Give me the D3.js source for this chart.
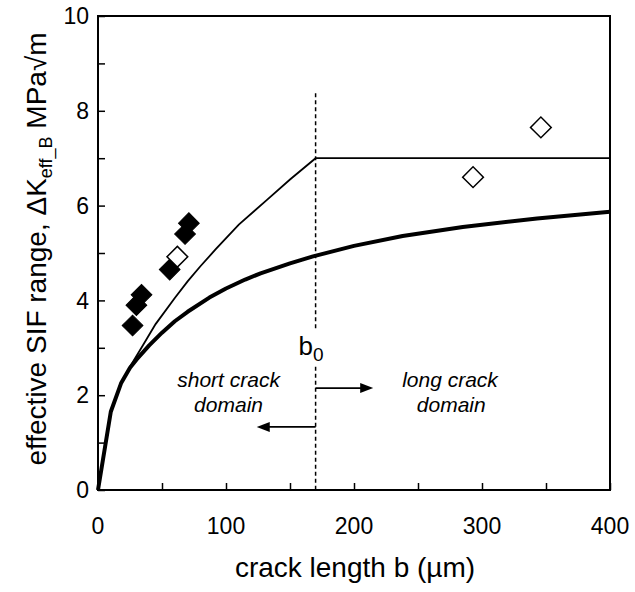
<!DOCTYPE html>
<html><head><meta charset="utf-8">
<script src="https://cdn.jsdelivr.net/npm/d3@7"></script>
<style>body{margin:0;background:#fff}svg{display:block;font-family:"Liberation Sans",Arial,Helvetica,sans-serif}</style>
</head><body><svg id="c" width="635" height="592"></svg>
<script>
// ---- data ----
const filledB = [27, 30, 34, 56, 68, 71];
const filledK = [3.47, 3.9, 4.12, 4.65, 5.4, 5.63];
const openB = [62, 293, 346];
const openK = [4.92, 6.6, 7.65];
const thinB = [0, 10, 18, 25, 35, 45, 60, 70, 80, 92, 110, 132, 150, 170, 400];
const thinK = [0, 1.65, 2.25, 2.6, 3.05, 3.5, 4.05, 4.4, 4.72, 5.08, 5.6, 6.12, 6.55, 7.0, 7.0];
const thickB = [0, 10, 18, 25, 30, 40, 50, 60, 70, 87, 100, 115, 127, 150, 168, 200, 238, 285, 343, 400];
const thickK = [0, 1.65, 2.25, 2.58, 2.75, 3.05, 3.32, 3.56, 3.76, 4.06, 4.25, 4.44, 4.57, 4.78, 4.93, 5.15, 5.36, 5.55, 5.73, 5.87];
const b0 = 170;
const xTicks = [0, 100, 200, 300, 400];
const yTicks = [0, 2, 4, 6, 8, 10];

const svg = d3.select("#c");
const L = 98, R = 610, T = 16, B = 490;
const x = d3.scaleLinear().domain([0, 400]).range([L, R]);
const y = d3.scaleLinear().domain([0, 10]).range([B, T]);

// curves
const line = d3.line().x(d => x(d[0])).y(d => y(d[1]));
svg.append("path").datum(thinB.map((b, i) => [b, thinK[i]]))
  .attr("d", line).attr("fill", "none").attr("stroke", "#000").attr("stroke-width", 1.8);
svg.append("path").datum(thickB.map((b, i) => [b, thickK[i]]))
  .attr("d", line).attr("fill", "none").attr("stroke", "#000").attr("stroke-width", 4).attr("stroke-linejoin", "round");

// b0 dashed line
[[8.37, 3.35], [2.6, 0]].forEach(s => {
  svg.append("line").attr("x1", x(b0)).attr("x2", x(b0)).attr("y1", y(s[0])).attr("y2", y(s[1]))
    .attr("stroke", "#000").attr("stroke-width", 1.5).attr("stroke-dasharray", "4,3");
});

// axes box
svg.append("rect").attr("x", L).attr("y", T).attr("width", R - L).attr("height", B - T)
  .attr("fill", "none").attr("stroke", "#000").attr("stroke-width", 2);
const xAx = svg.append("g").attr("transform", `translate(0,${B})`)
  .call(d3.axisBottom(x).tickValues(d3.range(0, 401, 50)).tickSize(-7).tickFormat(""));
const yAx = svg.append("g").attr("transform", `translate(${L},0)`)
  .call(d3.axisLeft(y).tickValues(d3.range(0, 11, 1)).tickSize(-7).tickFormat(""));
[xAx, yAx].forEach(g => { g.select(".domain").remove(); g.selectAll("line").attr("stroke", "#000").attr("stroke-width", 1.5); });

svg.selectAll(".xl").data(xTicks).join("text").attr("x", d => x(d)).attr("y", 534)
  .attr("text-anchor", "middle").attr("font-size", 23).text(d => d);
svg.selectAll(".yl").data(yTicks).join("text").attr("x", 89).attr("y", d => y(d)).attr("dy", "0.36em")
  .attr("text-anchor", "end").attr("font-size", 23).text(d => d);

// titles
svg.append("text").attr("x", (L + R) / 2 + 1).attr("y", 577).attr("text-anchor", "middle")
  .attr("font-size", 28).text("crack length b (µm)");
const yt = svg.append("text").attr("transform", `translate(46,${249}) rotate(-90)`)
  .attr("text-anchor", "middle").attr("font-size", 28);
yt.append("tspan").text("effective SIF range,  ΔK");
yt.append("tspan").attr("font-size", 18).attr("dy", 6).text("eff_B");
yt.append("tspan").attr("dy", -6).text(" MPa√m");

// markers
const sq = d3.symbol().type(d3.symbolSquare).size(215);
svg.selectAll(".fp").data(filledB.map((b, i) => [b, filledK[i]])).join("path")
  .attr("d", sq).attr("transform", d => `translate(${x(d[0])},${y(d[1])}) rotate(45)`)
  .attr("fill", "#000").attr("stroke", "#000").attr("stroke-width", 1);
svg.selectAll(".op").data(openB.map((b, i) => [b, openK[i]])).join("path")
  .attr("d", sq).attr("transform", d => `translate(${x(d[0])},${y(d[1])}) rotate(45)`)
  .attr("fill", "#fff").attr("stroke", "#000").attr("stroke-width", 1.5);

// annotations
const b0t = svg.append("text").attr("x", x(b0) - 17).attr("y", 355).attr("font-size", 26);
b0t.append("tspan").text("b");
b0t.append("tspan").attr("font-size", 19).attr("dy", 6).text("0");

function arrow(b1, b2, k) {
  const x1 = x(b1), x2 = x(b2), yy = y(k), dir = Math.sign(x2 - x1);
  svg.append("line").attr("x1", x1).attr("x2", x2 - dir * 10).attr("y1", yy).attr("y2", yy)
    .attr("stroke", "#000").attr("stroke-width", 1.8);
  svg.append("path").attr("d", `M${x2},${yy} L${x2 - dir * 13},${yy - 5} L${x2 - dir * 13},${yy + 5} Z`).attr("fill", "#000");
}
arrow(b0, 215, 2.15);
arrow(b0, 124, 1.33);

const notes = [["short crack", 102, 387], ["domain", 102, 412], ["long crack", 275, 387], ["domain", 276, 412]];
svg.selectAll(".nt").data(notes).join("text").attr("x", d => x(d[1])).attr("y", d => d[2])
  .attr("text-anchor", "middle").attr("font-size", 21).attr("font-style", "italic").text(d => d[0]);
</script></body></html>
